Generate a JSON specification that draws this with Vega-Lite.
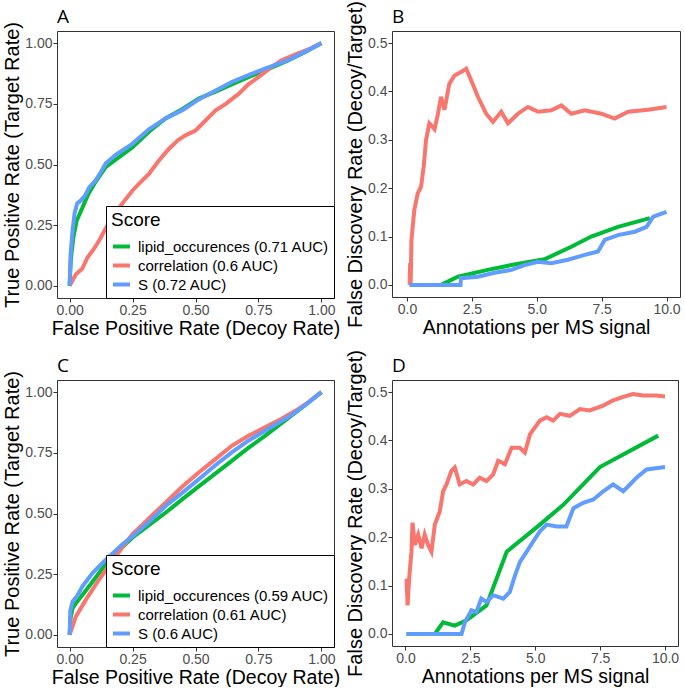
{
  "$schema": "https://vega.github.io/schema/vega-lite/v6.json",
  "background": "white",
  "padding": {"left": 2, "top": 0, "right": 3, "bottom": 0},
  "columns": 2,
  "spacing": {"row": 82, "column": 58},
  "bounds": "flush",
  "config": {
    "view": {"stroke": "#333333", "strokeWidth": 1},
    "axis": {"grid": false, "domain": false, "tickColor": "#333333", "tickSize": 4, "labelFont": "Liberation Sans", "labelFontSize": 14, "labelColor": "#4D4D4D", "labelPadding": 1, "labelFlush": false, "titleFont": "Liberation Sans", "titleFontWeight": "normal", "titleColor": "black"},
    "axisX": {"titleFontSize": 19.5, "titlePadding": 2},
    "axisY": {"titleFontSize": 20, "titlePadding": 2},
    "title": {"anchor": "start", "frame": "group", "font": "Open Sans", "fontSize": 19, "fontWeight": "normal", "color": "black"},
    "legend": {"orient": "bottom-right", "offset": 0, "titleFont": "Liberation Sans", "titleFontSize": 19, "titleFontWeight": "normal", "titleColor": "black", "titlePadding": 6, "labelFont": "Liberation Sans", "labelFontSize": 15, "labelColor": "black", "labelOffset": 6, "labelLimit": 400, "symbolType": "stroke", "symbolStrokeWidth": 4, "symbolSize": 289, "strokeColor": "black", "fillColor": "white", "padding": 5, "rowPadding": -2, "cornerRadius": 0}
  },
  "resolve": {"scale": {"color": "independent"}, "legend": {"color": "independent"}},
  "datasets": {
    "A": [
      {"Score": "lipid_occurences (0.71 AUC)", "x": 0, "y": 0},
      {"Score": "lipid_occurences (0.71 AUC)", "x": 0.005, "y": 0.11},
      {"Score": "lipid_occurences (0.71 AUC)", "x": 0.015, "y": 0.2},
      {"Score": "lipid_occurences (0.71 AUC)", "x": 0.028, "y": 0.268},
      {"Score": "lipid_occurences (0.71 AUC)", "x": 0.05, "y": 0.32},
      {"Score": "lipid_occurences (0.71 AUC)", "x": 0.075, "y": 0.38},
      {"Score": "lipid_occurences (0.71 AUC)", "x": 0.104, "y": 0.43},
      {"Score": "lipid_occurences (0.71 AUC)", "x": 0.144, "y": 0.49},
      {"Score": "lipid_occurences (0.71 AUC)", "x": 0.183, "y": 0.52},
      {"Score": "lipid_occurences (0.71 AUC)", "x": 0.249, "y": 0.57},
      {"Score": "lipid_occurences (0.71 AUC)", "x": 0.315, "y": 0.635},
      {"Score": "lipid_occurences (0.71 AUC)", "x": 0.381, "y": 0.69},
      {"Score": "lipid_occurences (0.71 AUC)", "x": 0.45, "y": 0.73},
      {"Score": "lipid_occurences (0.71 AUC)", "x": 0.513, "y": 0.772},
      {"Score": "lipid_occurences (0.71 AUC)", "x": 0.58, "y": 0.8},
      {"Score": "lipid_occurences (0.71 AUC)", "x": 0.644, "y": 0.83},
      {"Score": "lipid_occurences (0.71 AUC)", "x": 0.71, "y": 0.86},
      {"Score": "lipid_occurences (0.71 AUC)", "x": 0.776, "y": 0.888},
      {"Score": "lipid_occurences (0.71 AUC)", "x": 0.868, "y": 0.929},
      {"Score": "lipid_occurences (0.71 AUC)", "x": 0.93, "y": 0.96},
      {"Score": "lipid_occurences (0.71 AUC)", "x": 1, "y": 1},
      {"Score": "correlation (0.6 AUC)", "x": 0, "y": 0},
      {"Score": "correlation (0.6 AUC)", "x": 0.025, "y": 0.048},
      {"Score": "correlation (0.6 AUC)", "x": 0.05, "y": 0.07},
      {"Score": "correlation (0.6 AUC)", "x": 0.071, "y": 0.117},
      {"Score": "correlation (0.6 AUC)", "x": 0.095, "y": 0.15},
      {"Score": "correlation (0.6 AUC)", "x": 0.117, "y": 0.186},
      {"Score": "correlation (0.6 AUC)", "x": 0.14, "y": 0.23},
      {"Score": "correlation (0.6 AUC)", "x": 0.17, "y": 0.282},
      {"Score": "correlation (0.6 AUC)", "x": 0.21, "y": 0.34},
      {"Score": "correlation (0.6 AUC)", "x": 0.249, "y": 0.392},
      {"Score": "correlation (0.6 AUC)", "x": 0.28, "y": 0.425},
      {"Score": "correlation (0.6 AUC)", "x": 0.315, "y": 0.461},
      {"Score": "correlation (0.6 AUC)", "x": 0.35, "y": 0.51},
      {"Score": "correlation (0.6 AUC)", "x": 0.394, "y": 0.564},
      {"Score": "correlation (0.6 AUC)", "x": 0.43, "y": 0.6},
      {"Score": "correlation (0.6 AUC)", "x": 0.46, "y": 0.62},
      {"Score": "correlation (0.6 AUC)", "x": 0.5, "y": 0.64},
      {"Score": "correlation (0.6 AUC)", "x": 0.526, "y": 0.667},
      {"Score": "correlation (0.6 AUC)", "x": 0.579, "y": 0.722},
      {"Score": "correlation (0.6 AUC)", "x": 0.62, "y": 0.75},
      {"Score": "correlation (0.6 AUC)", "x": 0.671, "y": 0.791},
      {"Score": "correlation (0.6 AUC)", "x": 0.71, "y": 0.83},
      {"Score": "correlation (0.6 AUC)", "x": 0.75, "y": 0.86},
      {"Score": "correlation (0.6 AUC)", "x": 0.8, "y": 0.9},
      {"Score": "correlation (0.6 AUC)", "x": 0.842, "y": 0.929},
      {"Score": "correlation (0.6 AUC)", "x": 0.9, "y": 0.955},
      {"Score": "correlation (0.6 AUC)", "x": 0.95, "y": 0.975},
      {"Score": "correlation (0.6 AUC)", "x": 1, "y": 1},
      {"Score": "S (0.72 AUC)", "x": 0, "y": 0},
      {"Score": "S (0.72 AUC)", "x": 0.004, "y": 0.13},
      {"Score": "S (0.72 AUC)", "x": 0.012, "y": 0.23},
      {"Score": "S (0.72 AUC)", "x": 0.02, "y": 0.3},
      {"Score": "S (0.72 AUC)", "x": 0.03, "y": 0.34},
      {"Score": "S (0.72 AUC)", "x": 0.045, "y": 0.352},
      {"Score": "S (0.72 AUC)", "x": 0.06, "y": 0.37},
      {"Score": "S (0.72 AUC)", "x": 0.078, "y": 0.406},
      {"Score": "S (0.72 AUC)", "x": 0.1, "y": 0.43},
      {"Score": "S (0.72 AUC)", "x": 0.125, "y": 0.47},
      {"Score": "S (0.72 AUC)", "x": 0.144, "y": 0.505},
      {"Score": "S (0.72 AUC)", "x": 0.183, "y": 0.54},
      {"Score": "S (0.72 AUC)", "x": 0.249, "y": 0.585},
      {"Score": "S (0.72 AUC)", "x": 0.315, "y": 0.645},
      {"Score": "S (0.72 AUC)", "x": 0.381, "y": 0.69},
      {"Score": "S (0.72 AUC)", "x": 0.45, "y": 0.725},
      {"Score": "S (0.72 AUC)", "x": 0.513, "y": 0.768},
      {"Score": "S (0.72 AUC)", "x": 0.58, "y": 0.805},
      {"Score": "S (0.72 AUC)", "x": 0.644, "y": 0.84},
      {"Score": "S (0.72 AUC)", "x": 0.71, "y": 0.868},
      {"Score": "S (0.72 AUC)", "x": 0.776, "y": 0.895},
      {"Score": "S (0.72 AUC)", "x": 0.868, "y": 0.93},
      {"Score": "S (0.72 AUC)", "x": 0.93, "y": 0.962},
      {"Score": "S (0.72 AUC)", "x": 1, "y": 1}
    ],
    "B": [
      {"s": "lipid_occurences", "x": 0.1, "y": 0},
      {"s": "lipid_occurences", "x": 1.31, "y": 0},
      {"s": "lipid_occurences", "x": 1.96, "y": 0.017},
      {"s": "lipid_occurences", "x": 3.11, "y": 0.031},
      {"s": "lipid_occurences", "x": 4.02, "y": 0.041},
      {"s": "lipid_occurences", "x": 5.3, "y": 0.053},
      {"s": "lipid_occurences", "x": 6.33, "y": 0.079},
      {"s": "lipid_occurences", "x": 7.1, "y": 0.1},
      {"s": "lipid_occurences", "x": 8.13, "y": 0.12},
      {"s": "lipid_occurences", "x": 9.36, "y": 0.138},
      {"s": "correlation", "x": 0.1, "y": 0},
      {"s": "correlation", "x": 0.12, "y": 0.045},
      {"s": "correlation", "x": 0.14, "y": 0.004},
      {"s": "correlation", "x": 0.17, "y": 0.093},
      {"s": "correlation", "x": 0.28, "y": 0.155},
      {"s": "correlation", "x": 0.41, "y": 0.189},
      {"s": "correlation", "x": 0.54, "y": 0.203},
      {"s": "correlation", "x": 0.64, "y": 0.244},
      {"s": "correlation", "x": 0.73, "y": 0.299},
      {"s": "correlation", "x": 0.86, "y": 0.334},
      {"s": "correlation", "x": 1.06, "y": 0.322},
      {"s": "correlation", "x": 1.18, "y": 0.351},
      {"s": "correlation", "x": 1.31, "y": 0.389},
      {"s": "correlation", "x": 1.44, "y": 0.362},
      {"s": "correlation", "x": 1.63, "y": 0.416},
      {"s": "correlation", "x": 1.83, "y": 0.433},
      {"s": "correlation", "x": 2.08, "y": 0.44},
      {"s": "correlation", "x": 2.28, "y": 0.447},
      {"s": "correlation", "x": 2.47, "y": 0.423},
      {"s": "correlation", "x": 2.73, "y": 0.389},
      {"s": "correlation", "x": 3.05, "y": 0.354},
      {"s": "correlation", "x": 3.31, "y": 0.337},
      {"s": "correlation", "x": 3.63, "y": 0.358},
      {"s": "correlation", "x": 3.89, "y": 0.334},
      {"s": "correlation", "x": 4.27, "y": 0.354},
      {"s": "correlation", "x": 4.66, "y": 0.368},
      {"s": "correlation", "x": 5.05, "y": 0.358},
      {"s": "correlation", "x": 5.56, "y": 0.361},
      {"s": "correlation", "x": 5.95, "y": 0.371},
      {"s": "correlation", "x": 6.33, "y": 0.354},
      {"s": "correlation", "x": 6.85, "y": 0.361},
      {"s": "correlation", "x": 7.49, "y": 0.354},
      {"s": "correlation", "x": 8.0, "y": 0.344},
      {"s": "correlation", "x": 8.52, "y": 0.358},
      {"s": "correlation", "x": 9.29, "y": 0.362},
      {"s": "correlation", "x": 10.0, "y": 0.368},
      {"s": "S", "x": 0.1, "y": 0},
      {"s": "S", "x": 2.06, "y": 0},
      {"s": "S", "x": 2.08, "y": 0.014},
      {"s": "S", "x": 2.73, "y": 0.017},
      {"s": "S", "x": 3.37, "y": 0.025},
      {"s": "S", "x": 4.02, "y": 0.031},
      {"s": "S", "x": 4.53, "y": 0.041},
      {"s": "S", "x": 5.05, "y": 0.048},
      {"s": "S", "x": 5.56, "y": 0.045},
      {"s": "S", "x": 6.2, "y": 0.052},
      {"s": "S", "x": 6.85, "y": 0.062},
      {"s": "S", "x": 7.36, "y": 0.069},
      {"s": "S", "x": 7.62, "y": 0.093},
      {"s": "S", "x": 8.13, "y": 0.103},
      {"s": "S", "x": 8.78, "y": 0.11},
      {"s": "S", "x": 9.23, "y": 0.12},
      {"s": "S", "x": 9.49, "y": 0.141},
      {"s": "S", "x": 10.0, "y": 0.151}
    ],
    "C": [
      {"Score": "lipid_occurences (0.59 AUC)", "x": 0, "y": 0},
      {"Score": "lipid_occurences (0.59 AUC)", "x": 0.004, "y": 0.07},
      {"Score": "lipid_occurences (0.59 AUC)", "x": 0.012, "y": 0.11},
      {"Score": "lipid_occurences (0.59 AUC)", "x": 0.025, "y": 0.13},
      {"Score": "lipid_occurences (0.59 AUC)", "x": 0.07, "y": 0.19},
      {"Score": "lipid_occurences (0.59 AUC)", "x": 0.117, "y": 0.255},
      {"Score": "lipid_occurences (0.59 AUC)", "x": 0.157, "y": 0.31},
      {"Score": "lipid_occurences (0.59 AUC)", "x": 0.249, "y": 0.4},
      {"Score": "lipid_occurences (0.59 AUC)", "x": 0.315, "y": 0.452},
      {"Score": "lipid_occurences (0.59 AUC)", "x": 0.381, "y": 0.503},
      {"Score": "lipid_occurences (0.59 AUC)", "x": 0.447, "y": 0.558},
      {"Score": "lipid_occurences (0.59 AUC)", "x": 0.513, "y": 0.612},
      {"Score": "lipid_occurences (0.59 AUC)", "x": 0.58, "y": 0.665},
      {"Score": "lipid_occurences (0.59 AUC)", "x": 0.644, "y": 0.717},
      {"Score": "lipid_occurences (0.59 AUC)", "x": 0.71, "y": 0.77},
      {"Score": "lipid_occurences (0.59 AUC)", "x": 0.776, "y": 0.82},
      {"Score": "lipid_occurences (0.59 AUC)", "x": 0.881, "y": 0.903},
      {"Score": "lipid_occurences (0.59 AUC)", "x": 0.94, "y": 0.95},
      {"Score": "lipid_occurences (0.59 AUC)", "x": 1, "y": 1},
      {"Score": "correlation (0.61 AUC)", "x": 0, "y": 0},
      {"Score": "correlation (0.61 AUC)", "x": 0.01, "y": 0.03},
      {"Score": "correlation (0.61 AUC)", "x": 0.025, "y": 0.076},
      {"Score": "correlation (0.61 AUC)", "x": 0.065, "y": 0.145},
      {"Score": "correlation (0.61 AUC)", "x": 0.117, "y": 0.228},
      {"Score": "correlation (0.61 AUC)", "x": 0.183, "y": 0.324},
      {"Score": "correlation (0.61 AUC)", "x": 0.249, "y": 0.414},
      {"Score": "correlation (0.61 AUC)", "x": 0.315, "y": 0.48},
      {"Score": "correlation (0.61 AUC)", "x": 0.381, "y": 0.545},
      {"Score": "correlation (0.61 AUC)", "x": 0.447, "y": 0.61},
      {"Score": "correlation (0.61 AUC)", "x": 0.513, "y": 0.669},
      {"Score": "correlation (0.61 AUC)", "x": 0.579, "y": 0.724},
      {"Score": "correlation (0.61 AUC)", "x": 0.644, "y": 0.779},
      {"Score": "correlation (0.61 AUC)", "x": 0.71, "y": 0.82},
      {"Score": "correlation (0.61 AUC)", "x": 0.776, "y": 0.855},
      {"Score": "correlation (0.61 AUC)", "x": 0.842, "y": 0.89},
      {"Score": "correlation (0.61 AUC)", "x": 0.9, "y": 0.925},
      {"Score": "correlation (0.61 AUC)", "x": 0.95, "y": 0.96},
      {"Score": "correlation (0.61 AUC)", "x": 1, "y": 1},
      {"Score": "S (0.6 AUC)", "x": 0, "y": 0},
      {"Score": "S (0.6 AUC)", "x": 0.003, "y": 0.1},
      {"Score": "S (0.6 AUC)", "x": 0.012, "y": 0.138},
      {"Score": "S (0.6 AUC)", "x": 0.03, "y": 0.16},
      {"Score": "S (0.6 AUC)", "x": 0.051, "y": 0.2},
      {"Score": "S (0.6 AUC)", "x": 0.091, "y": 0.255},
      {"Score": "S (0.6 AUC)", "x": 0.144, "y": 0.31},
      {"Score": "S (0.6 AUC)", "x": 0.209, "y": 0.372},
      {"Score": "S (0.6 AUC)", "x": 0.249, "y": 0.405},
      {"Score": "S (0.6 AUC)", "x": 0.315, "y": 0.465},
      {"Score": "S (0.6 AUC)", "x": 0.381, "y": 0.531},
      {"Score": "S (0.6 AUC)", "x": 0.447, "y": 0.585},
      {"Score": "S (0.6 AUC)", "x": 0.513, "y": 0.641},
      {"Score": "S (0.6 AUC)", "x": 0.58, "y": 0.7},
      {"Score": "S (0.6 AUC)", "x": 0.644, "y": 0.752},
      {"Score": "S (0.6 AUC)", "x": 0.71, "y": 0.8},
      {"Score": "S (0.6 AUC)", "x": 0.776, "y": 0.841},
      {"Score": "S (0.6 AUC)", "x": 0.881, "y": 0.905},
      {"Score": "S (0.6 AUC)", "x": 0.94, "y": 0.95},
      {"Score": "S (0.6 AUC)", "x": 1, "y": 1}
    ],
    "D": [
      {"s": "lipid_occurences", "x": 0.04, "y": 0},
      {"s": "lipid_occurences", "x": 1.13, "y": 0},
      {"s": "lipid_occurences", "x": 1.45, "y": 0.024},
      {"s": "lipid_occurences", "x": 1.9, "y": 0.017},
      {"s": "lipid_occurences", "x": 2.35, "y": 0.028},
      {"s": "lipid_occurences", "x": 3.12, "y": 0.059},
      {"s": "lipid_occurences", "x": 3.9, "y": 0.17},
      {"s": "lipid_occurences", "x": 5.18, "y": 0.226},
      {"s": "lipid_occurences", "x": 6.08, "y": 0.267},
      {"s": "lipid_occurences", "x": 7.49, "y": 0.345},
      {"s": "lipid_occurences", "x": 9.74, "y": 0.41},
      {"s": "correlation", "x": 0.04, "y": 0.114},
      {"s": "correlation", "x": 0.08, "y": 0.059},
      {"s": "correlation", "x": 0.14, "y": 0.114},
      {"s": "correlation", "x": 0.23, "y": 0.17},
      {"s": "correlation", "x": 0.27, "y": 0.23},
      {"s": "correlation", "x": 0.36, "y": 0.184},
      {"s": "correlation", "x": 0.49, "y": 0.205},
      {"s": "correlation", "x": 0.62, "y": 0.177},
      {"s": "correlation", "x": 0.74, "y": 0.205},
      {"s": "correlation", "x": 0.87, "y": 0.184},
      {"s": "correlation", "x": 1.0, "y": 0.17},
      {"s": "correlation", "x": 1.13, "y": 0.226},
      {"s": "correlation", "x": 1.32, "y": 0.253},
      {"s": "correlation", "x": 1.45, "y": 0.295},
      {"s": "correlation", "x": 1.58, "y": 0.309},
      {"s": "correlation", "x": 1.77, "y": 0.337},
      {"s": "correlation", "x": 1.9, "y": 0.344},
      {"s": "correlation", "x": 2.09, "y": 0.309},
      {"s": "correlation", "x": 2.35, "y": 0.316},
      {"s": "correlation", "x": 2.61, "y": 0.309},
      {"s": "correlation", "x": 2.86, "y": 0.323},
      {"s": "correlation", "x": 3.12, "y": 0.316},
      {"s": "correlation", "x": 3.38, "y": 0.33},
      {"s": "correlation", "x": 3.57, "y": 0.358},
      {"s": "correlation", "x": 3.83, "y": 0.351},
      {"s": "correlation", "x": 4.09, "y": 0.385},
      {"s": "correlation", "x": 4.4, "y": 0.385},
      {"s": "correlation", "x": 4.6, "y": 0.375},
      {"s": "correlation", "x": 4.8, "y": 0.413},
      {"s": "correlation", "x": 5.18, "y": 0.441},
      {"s": "correlation", "x": 5.44, "y": 0.448},
      {"s": "correlation", "x": 5.69, "y": 0.441},
      {"s": "correlation", "x": 5.95, "y": 0.455},
      {"s": "correlation", "x": 6.33, "y": 0.451},
      {"s": "correlation", "x": 6.72, "y": 0.465},
      {"s": "correlation", "x": 7.1, "y": 0.462},
      {"s": "correlation", "x": 7.62, "y": 0.472},
      {"s": "correlation", "x": 8.0, "y": 0.483},
      {"s": "correlation", "x": 8.39, "y": 0.49},
      {"s": "correlation", "x": 8.77, "y": 0.496},
      {"s": "correlation", "x": 9.16, "y": 0.493},
      {"s": "correlation", "x": 9.67, "y": 0.493},
      {"s": "correlation", "x": 10.0, "y": 0.491},
      {"s": "S", "x": 0.04, "y": 0},
      {"s": "S", "x": 2.16, "y": 0},
      {"s": "S", "x": 2.29, "y": 0.024},
      {"s": "S", "x": 2.54, "y": 0.049},
      {"s": "S", "x": 2.73, "y": 0.045},
      {"s": "S", "x": 2.92, "y": 0.073},
      {"s": "S", "x": 3.12, "y": 0.066},
      {"s": "S", "x": 3.38, "y": 0.08},
      {"s": "S", "x": 3.77, "y": 0.073},
      {"s": "S", "x": 4.02, "y": 0.087},
      {"s": "S", "x": 4.22, "y": 0.121},
      {"s": "S", "x": 4.41, "y": 0.149},
      {"s": "S", "x": 4.67, "y": 0.17},
      {"s": "S", "x": 4.92, "y": 0.191},
      {"s": "S", "x": 5.18, "y": 0.212},
      {"s": "S", "x": 5.44, "y": 0.226},
      {"s": "S", "x": 5.82, "y": 0.222},
      {"s": "S", "x": 6.2, "y": 0.222},
      {"s": "S", "x": 6.47, "y": 0.26},
      {"s": "S", "x": 6.85, "y": 0.271},
      {"s": "S", "x": 7.24, "y": 0.278},
      {"s": "S", "x": 7.62, "y": 0.295},
      {"s": "S", "x": 8.0, "y": 0.309},
      {"s": "S", "x": 8.39, "y": 0.295},
      {"s": "S", "x": 8.65, "y": 0.309},
      {"s": "S", "x": 8.9, "y": 0.323},
      {"s": "S", "x": 9.29, "y": 0.34},
      {"s": "S", "x": 10.0, "y": 0.345}
    ]
  },
  "concat": [
    {
      "width": 277, "height": 267,
      "title": {"text": "A", "offset": -6},
      "data": {"name": "A"},
      "mark": {"type": "line", "strokeWidth": 4},
      "encoding": {
        "x": {"field": "x", "type": "quantitative", "scale": {"domain": [-0.05, 1.05], "nice": false, "zero": false}, "axis": {"values": [0, 0.25, 0.5, 0.75, 1], "format": ".2f", "title": "False Positive Rate (Decoy Rate)"}},
        "y": {"field": "y", "type": "quantitative", "scale": {"domain": [-0.05, 1.05], "nice": false, "zero": false}, "axis": {"values": [0, 0.25, 0.5, 0.75, 1], "format": ".2f", "title": "True Positive Rate (Target Rate)"}},
        "color": {"field": "Score", "type": "nominal", "scale": {"domain": ["lipid_occurences (0.71 AUC)", "correlation (0.6 AUC)", "S (0.72 AUC)"], "range": ["#00BA38", "#F8766D", "#619CFF"]}, "legend": {"title": "Score"}}
      }
    },
    {
      "width": 288, "height": 266,
      "title": {"text": "B", "offset": -26},
      "data": {"name": "B"},
      "mark": {"type": "line", "strokeWidth": 4},
      "encoding": {
        "x": {"field": "x", "type": "quantitative", "scale": {"domain": [-0.58, 10.52], "nice": false, "zero": false}, "axis": {"values": [0, 2.5, 5, 7.5, 10], "format": ".1f", "title": "Annotations per MS signal"}},
        "y": {"field": "y", "type": "quantitative", "scale": {"domain": [-0.025, 0.525], "nice": false, "zero": false}, "axis": {"values": [0, 0.1, 0.2, 0.3, 0.4, 0.5], "format": ".1f", "title": "False Discovery Rate (Decoy/Target)"}},
        "color": {"field": "s", "type": "nominal", "scale": {"domain": ["lipid_occurences", "correlation", "S"], "range": ["#00BA38", "#F8766D", "#619CFF"]}, "legend": null}
      }
    },
    {
      "width": 277, "height": 267,
      "title": {"text": "C", "offset": -6},
      "data": {"name": "C"},
      "mark": {"type": "line", "strokeWidth": 4},
      "encoding": {
        "x": {"field": "x", "type": "quantitative", "scale": {"domain": [-0.05, 1.05], "nice": false, "zero": false}, "axis": {"values": [0, 0.25, 0.5, 0.75, 1], "format": ".2f", "title": "False Positive Rate (Decoy Rate)"}},
        "y": {"field": "y", "type": "quantitative", "scale": {"domain": [-0.05, 1.05], "nice": false, "zero": false}, "axis": {"values": [0, 0.25, 0.5, 0.75, 1], "format": ".2f", "title": "True Positive Rate (Target Rate)"}},
        "color": {"field": "Score", "type": "nominal", "scale": {"domain": ["lipid_occurences (0.59 AUC)", "correlation (0.61 AUC)", "S (0.6 AUC)"], "range": ["#00BA38", "#F8766D", "#619CFF"]}, "legend": {"title": "Score"}}
      }
    },
    {
      "width": 286, "height": 266,
      "title": {"text": "D", "offset": -26},
      "data": {"name": "D"},
      "mark": {"type": "line", "strokeWidth": 4},
      "encoding": {
        "x": {"field": "x", "type": "quantitative", "scale": {"domain": [-0.52, 10.5], "nice": false, "zero": false}, "axis": {"values": [0, 2.5, 5, 7.5, 10], "format": ".1f", "title": "Annotations per MS signal"}},
        "y": {"field": "y", "type": "quantitative", "scale": {"domain": [-0.025, 0.525], "nice": false, "zero": false}, "axis": {"values": [0, 0.1, 0.2, 0.3, 0.4, 0.5], "format": ".1f", "title": "False Discovery Rate (Decoy/Target)"}},
        "color": {"field": "s", "type": "nominal", "scale": {"domain": ["lipid_occurences", "correlation", "S"], "range": ["#00BA38", "#F8766D", "#619CFF"]}, "legend": null}
      }
    }
  ]
}
